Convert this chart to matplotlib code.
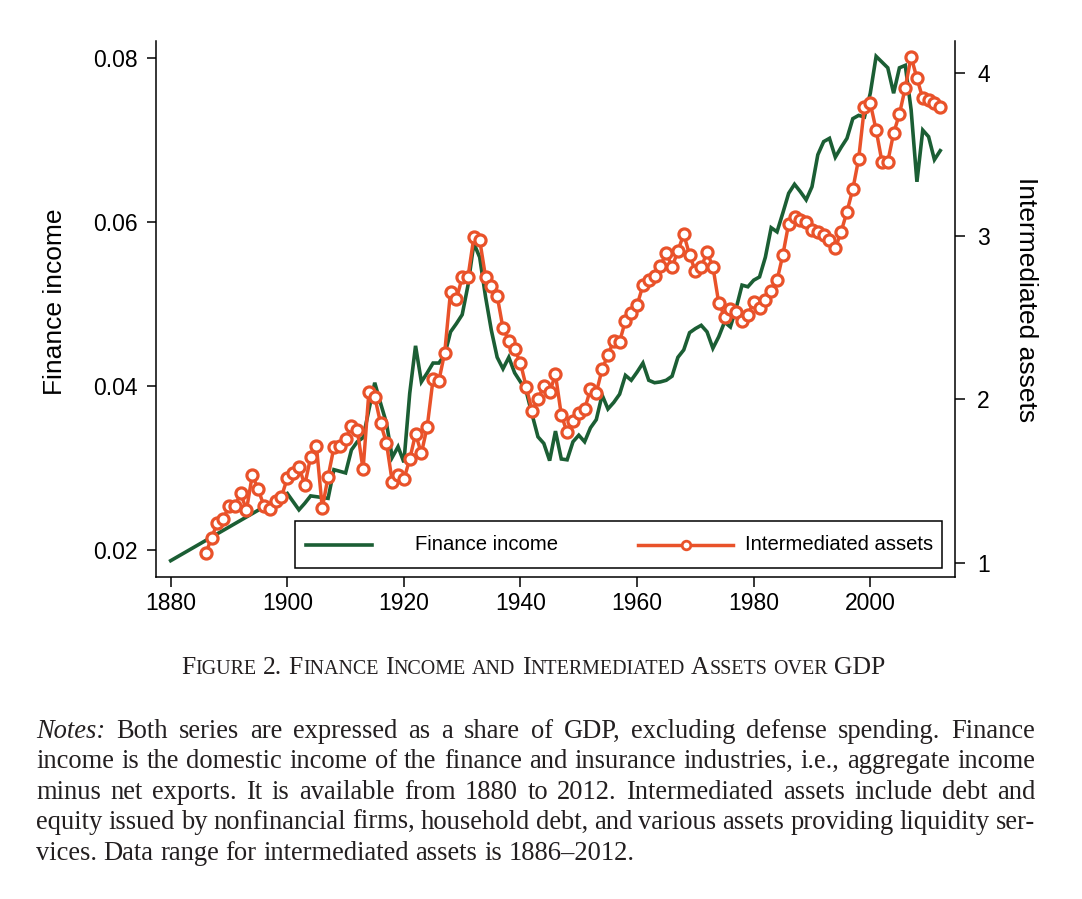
import matplotlib
matplotlib.use("Agg")
import matplotlib.pyplot as plt
from matplotlib.patches import Rectangle
from matplotlib.lines import Line2D

# ---------------- data ----------------
fin_years = [1880, 1890] + list(range(1900, 2013))
fin_income = [
    0.0187, 0.0228,
    # 1900-1909
    0.0269, 0.0259, 0.0249, 0.0257, 0.0266, 0.0265, 0.0264, 0.0263, 0.0298, 0.0296,
    # 1910-1919
    0.0294, 0.0322, 0.0332, 0.0337, 0.0371, 0.0404, 0.0379, 0.0355, 0.0313, 0.0326,
    # 1920-1929
    0.0307, 0.0391, 0.0449, 0.0405, 0.0416, 0.0428, 0.0428, 0.0438, 0.0466, 0.0476,
    # 1930-1939
    0.0487, 0.0523, 0.0574, 0.0557, 0.0509, 0.0468, 0.0435, 0.0421, 0.0435, 0.0416,
    # 1940-1949
    0.0405, 0.0393, 0.0365, 0.0338, 0.0330, 0.0309, 0.0345, 0.0311, 0.0310, 0.0332,
    # 1950-1959
    0.0340, 0.0332, 0.0349, 0.0359, 0.0389, 0.0372, 0.0380, 0.0390, 0.0413, 0.0407,
    # 1960-1969
    0.0417, 0.0428, 0.0407, 0.0404, 0.0405, 0.0407, 0.0412, 0.0435, 0.0444, 0.0465,
    # 1970-1979
    0.0470, 0.0474, 0.0466, 0.0446, 0.0460, 0.0478, 0.0472, 0.0495, 0.0523, 0.0521,
    # 1980-1989
    0.0529, 0.0533, 0.0557, 0.0593, 0.0588, 0.0611, 0.0635, 0.0646, 0.0637, 0.0627,
    # 1990-1999
    0.0643, 0.0682, 0.0698, 0.0702, 0.0679, 0.0691, 0.0702, 0.0726, 0.0730, 0.0728,
    # 2000-2009
    0.0757, 0.0802, 0.0795, 0.0788, 0.0757, 0.0788, 0.0791, 0.0737, 0.0649, 0.0712,
    # 2010-2012
    0.0704, 0.0676, 0.0687,
]

ia_years = list(range(1886, 2013))
ia_values = [
    # 1886-1889
    1.057, 1.149, 1.244, 1.265,
    # 1890-1899
    1.347, 1.347, 1.424, 1.322, 1.536, 1.449, 1.347, 1.326, 1.379, 1.404,
    # 1900-1909
    1.516, 1.547, 1.587, 1.475, 1.645, 1.714, 1.333, 1.526, 1.706, 1.714,
    # 1910-1919
    1.755, 1.837, 1.812, 1.571, 2.047, 2.016, 1.853, 1.734, 1.495, 1.536,
    # 1920-1929
    1.510, 1.633, 1.788, 1.669, 1.832, 2.122, 2.114, 2.285, 2.659, 2.612,
    # 1930-1939
    2.747, 2.751, 2.992, 2.976, 2.751, 2.694, 2.633, 2.435, 2.359, 2.306,
    # 1940-1949
    2.222, 2.073, 1.928, 2.000, 2.083, 2.042, 2.152, 1.904, 1.797, 1.867,
    # 1950-1959
    1.918, 1.939, 2.061, 2.040, 2.184, 2.271, 2.359, 2.353, 2.481, 2.530,
    # 1960-1969
    2.577, 2.697, 2.728, 2.755, 2.816, 2.898, 2.810, 2.908, 3.012, 2.884,
    # 1970-1979
    2.784, 2.810, 2.900, 2.812, 2.592, 2.506, 2.551, 2.536, 2.478, 2.516,
    # 1980-1989
    2.598, 2.557, 2.606, 2.666, 2.728, 2.884, 3.075, 3.118, 3.096, 3.085,
    # 1990-1999
    3.037, 3.026, 3.006, 2.976, 2.925, 3.026, 3.149, 3.286, 3.472, 3.792,
    # 2000-2009
    3.813, 3.649, 3.455, 3.455, 3.629, 3.747, 3.908, 4.098, 3.966, 3.843,
    # 2010-2012
    3.833, 3.816, 3.792,
]

x_ticks = [1880, 1900, 1920, 1940, 1960, 1980, 2000]
left_ticks = [0.02, 0.04, 0.06, 0.08]
left_tick_labels = ["0.02", "0.04", "0.06", "0.08"]
right_ticks = [1, 2, 3, 4]
right_tick_labels = ["1", "2", "3", "4"]

series_names = ["Finance income", "Intermediated assets"]
left_label = "Finance income"
right_label = "Intermediated assets"

caption_words = [("F", "IGURE"), ("2.", ""), ("F", "INANCE"), ("I", "NCOME"),
                 ("", "AND"), ("I", "NTERMEDIATED"), ("A", "SSETS"), ("", "OVER"),
                 ("GDP", "")]
notes_lines = [
    "Notes: Both series are expressed as a share of GDP, excluding defense spending. Finance",
    "income is the domestic income of the finance and insurance industries, i.e., aggregate income",
    "minus net exports. It is available from 1880 to 2012. Intermediated assets include debt and",
    "equity issued by nonfinancial firms, household debt, and various assets providing liquidity ser-",
    "vices. Data range for intermediated assets is 1886\u20132012.",
]

# ---------------- style ----------------
GREEN = "#1b5e34"
ORANGE = "#e9522a"
SANS = "Liberation Sans"
SERIF = "Liberation Serif"

W, H = 1082, 899
fig = plt.figure(figsize=(W / 100, H / 100), dpi=100)
fig.patch.set_facecolor("white")
renderer = fig.canvas.get_renderer()


def fx(px):
    return px / W


def fy(py):
    return 1 - py / H


# axes box in pixels
L, R, T, B = 156, 955, 41, 577
ax = fig.add_axes([fx(L), fy(B), (R - L) / W, (B - T) / H])
ax.plot(fin_years, fin_income, color=GREEN, lw=2.6, solid_joinstyle="miter", zorder=3)
ax.set_xlim(1877.48, 2014.53)
ax.set_ylim(0.01671, 0.08207)

ax2 = ax.twinx()
ax2.plot(ia_years, ia_values, color=ORANGE, lw=2.5, marker="o", ms=8.0,
         mfc="white", mec=ORANGE, mew=2.3, zorder=3)
ax2.set_ylim(0.9118, 4.194)

for a in (ax, ax2):
    a.spines["top"].set_visible(False)
    for s in a.spines.values():
        s.set_linewidth(1.1)
ax.spines["right"].set_visible(False)
ax2.spines["left"].set_visible(False)
ax2.spines["bottom"].set_visible(False)

ax.set_xticks(x_ticks)
ax.set_xticklabels([str(v) for v in x_ticks], family=SANS, fontsize=16.5)
ax.set_yticks(left_ticks)
ax.set_yticklabels(left_tick_labels, family=SANS, fontsize=16.5)
ax2.set_yticks(right_ticks)
ax2.set_yticklabels(right_tick_labels, family=SANS, fontsize=16.5)
ax.tick_params(axis="x", length=7.2, width=1.1, pad=3.5)
ax.tick_params(axis="y", length=6.3, width=1.1, pad=7.0)
ax2.tick_params(axis="y", length=7.5, width=1.1, pad=8.5)

fig.text(fx(55), fy(302), left_label, rotation=90, ha="center", va="center",
         family=SANS, fontsize=19)
fig.text(fx(1026), fy(300), right_label, rotation=-90, ha="center", va="center",
         family=SANS, fontsize=19)

# legend
def axx(px):
    return (px - L) / (R - L)


def axy(py):
    return (B - py) / (B - T)


ax2.add_patch(Rectangle((axx(295), axy(568)), axx(942) - axx(295), axy(521) - axy(568),
                        transform=ax2.transAxes, facecolor="white", edgecolor="black",
                        lw=1.1, zorder=10))
ly = axy(544.5)
ax2.add_line(Line2D([axx(306), axx(372)], [ly, ly], transform=ax2.transAxes,
                    color=GREEN, lw=2.6, zorder=11))
ax2.text(axx(415), ly, series_names[0], transform=ax2.transAxes, va="center",
         ha="left", family=SANS, fontsize=14.6, zorder=11)
ax2.add_line(Line2D([axx(638), axx(733)], [ly, ly], transform=ax2.transAxes,
                    color=ORANGE, lw=2.5, zorder=11))
ax2.add_line(Line2D([axx(686)], [ly], transform=ax2.transAxes, marker="o", ms=6.2,
                    mfc="white", mec=ORANGE, mew=2.0, zorder=12))
ax2.text(axx(745), ly, series_names[1], transform=ax2.transAxes, va="center",
         ha="left", family=SANS, fontsize=14.6, zorder=11)


# ---------------- caption text ----------------
def adv(s, **kw):
    t1 = fig.text(0, 0, "|" + s + "|", **kw)
    t2 = fig.text(0, 0, "||", **kw)
    w = t1.get_window_extent(renderer).width - t2.get_window_extent(renderer).width
    t1.remove()
    t2.remove()
    return w


def ink(s, **kw):
    t = fig.text(0, 0, s, **kw)
    w = t.get_window_extent(renderer).width
    t.remove()
    return w


CAP_COLOR = "#231f20"
RATIO = 0.78


def caption_pieces(big):
    small = big * RATIO
    pieces = []
    for i, (b, s) in enumerate(caption_words):
        if i > 0:
            pieces.append((" ", big))
        if b:
            pieces.append((b, big))
        if s:
            pieces.append((s, small))
    return pieces


def caption_width(big):
    return sum(adv(t, family=SERIF, fontsize=sz) for t, sz in caption_pieces(big))


w10 = caption_width(10.0)
big = 10.0 * 707 / w10
total = caption_width(big)
x = 533.5 - total / 2
for t, sz in caption_pieces(big):
    if t.strip():
        fig.text(fx(x), fy(674), t, family=SERIF, fontsize=sz, ha="left",
                 va="baseline", color=CAP_COLOR)
    x += adv(t, family=SERIF, fontsize=sz)

# ---------------- notes ----------------
n10 = ink(notes_lines[-1], family=SERIF, fontsize=10)
nsize = 10 * 600 / n10
x_left, x_right = 36, 1035
base0, step = 738, 30.4
for i, line in enumerate(notes_lines):
    yb = base0 + i * step
    words = line.split(" ")
    styles = []
    for j, w in enumerate(words):
        st = "italic" if (i == 0 and j == 0) else "normal"
        styles.append(st)
    if i == len(notes_lines) - 1:
        x = x_left
        sp = adv(" ", family=SERIF, fontsize=nsize)
        for w, st in zip(words, styles):
            fig.text(fx(x), fy(yb), w, family=SERIF, style=st, fontsize=nsize,
                     ha="left", va="baseline", color=CAP_COLOR)
            x += adv(w, family=SERIF, style=st, fontsize=nsize) + sp
    else:
        widths = [ink(w, family=SERIF, style=st, fontsize=nsize) for w, st in zip(words, styles)]
        gap = (x_right - x_left - sum(widths)) / (len(words) - 1)
        x = x_left
        for w, st, wd in zip(words, styles, widths):
            fig.text(fx(x), fy(yb), w, family=SERIF, style=st, fontsize=nsize,
                     ha="left", va="baseline", color=CAP_COLOR)
            x += wd + gap

fig.savefig("out.png", dpi=100, facecolor="white")
